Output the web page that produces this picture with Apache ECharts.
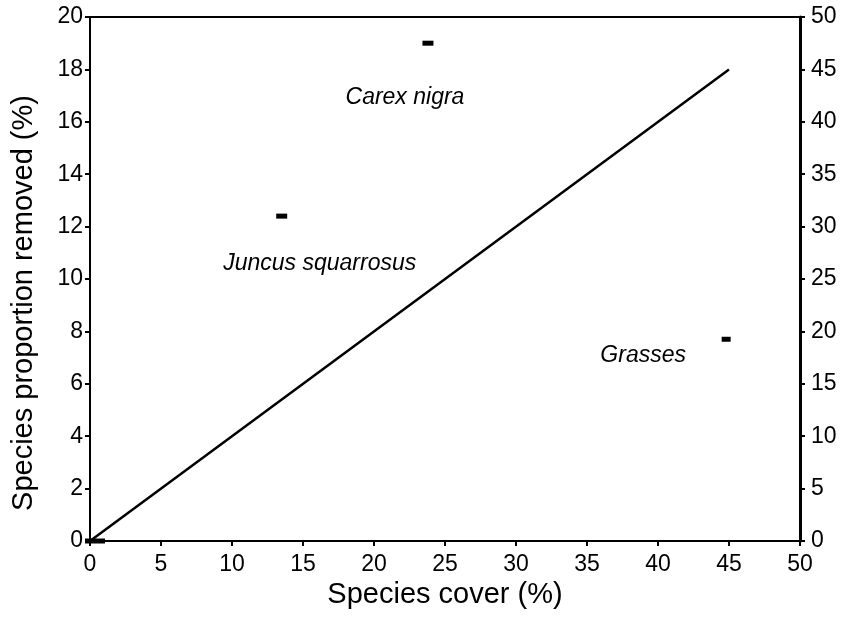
<!DOCTYPE html>
<html>
<head>
<meta charset="utf-8">
<script src="https://cdn.jsdelivr.net/npm/echarts@6/dist/echarts.min.js"></script>
<style>
    html, body { margin: 0; padding: 0; background: #fff; }
    #chart { width: 845px; height: 622px; }
</style>
</head>
<body>
<div id="chart"></div>
<script>
    // values
    const speciesNames = ['', 'Juncus squarrosus', 'Carex nigra', 'Grasses']
    const coverX = [0.35, 13.5, 23.8, 44.8]
    const removedY = [0, 12.4, 19.0, 7.7]
    // 1:1 line, against the right-hand axis
    const lineX = [0, 45]
    const lineY = [0, 45]

    const font = 'Liberation Sans, Arial, Helvetica, sans-serif'
    const labelOffsets = [[0, 0], [38, 47], [-23, 54], [-83, 16]]
    const markerSizes = [[20, 5], [11, 5], [11, 5], [9, 5]]

    let chart = echarts.init(document.getElementById('chart'))

    let axisCommon = {
        axisLine: { show: true, lineStyle: { color: '#000', width: 2 } },
        axisTick: { show: true, inside: false, length: 5, lineStyle: { color: '#000', width: 2 } },
        axisLabel: { color: '#000', fontSize: 23, fontFamily: font },
        splitLine: { show: false },
        nameTextStyle: { color: '#000', fontSize: 29, fontFamily: font }
    }

    let option = {
        animation: false,
        backgroundColor: '#fff',
        grid: {
            left: 90, right: 45, top: 17, bottom: 81,
            show: true, borderColor: '#000', borderWidth: 2
        },
        xAxis: Object.assign({}, axisCommon, {
            type: 'value', min: 0, max: 50, interval: 5,
            name: 'Species cover (%)', nameLocation: 'middle', nameGap: 27,
            axisLabel: Object.assign({}, axisCommon.axisLabel, { margin: 12 })
        }),
        yAxis: [
            Object.assign({}, axisCommon, {
                type: 'value', min: 0, max: 20, interval: 2, position: 'left',
                name: 'Species proportion removed (%)', nameLocation: 'middle', nameGap: 52,
                nameTextStyle: Object.assign({}, axisCommon.nameTextStyle, { padding: [0, 48, 0, 0] }),
                axisLabel: Object.assign({}, axisCommon.axisLabel, { margin: 7 })
            }),
            Object.assign({}, axisCommon, {
                type: 'value', min: 0, max: 50, interval: 5, position: 'right',
                axisLine: { show: true, lineStyle: { color: '#000', width: 3 } },
                axisLabel: Object.assign({}, axisCommon.axisLabel, { margin: 11 })
            })
        ],
        series: [
            {
                type: 'line',
                yAxisIndex: 1,
                data: lineX.map((x, i) => [x, lineY[i]]),
                showSymbol: false,
                lineStyle: { color: '#000', width: 2.5 }
            },
            {
                type: 'scatter',
                yAxisIndex: 0,
                symbol: 'rect',
                itemStyle: { color: '#000', opacity: 1 },
                data: coverX.map((x, i) => ({
                    value: [x, removedY[i]],
                    name: speciesNames[i],
                    symbolSize: markerSizes[i],
                    label: {
                        show: speciesNames[i] !== '',
                        position: 'inside',
                        offset: labelOffsets[i],
                        formatter: '{b}',
                        color: '#000',
                        opacity: 1,
                        fontSize: 23,
                        fontStyle: 'italic',
                        fontFamily: font
                    }
                }))
            }
        ]
    }
    chart.setOption(option)
</script>
</body>
</html>
